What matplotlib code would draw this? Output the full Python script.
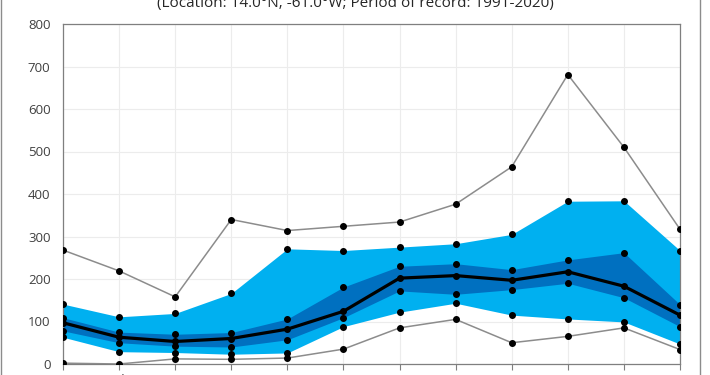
import numpy as np
import matplotlib
matplotlib.use('Agg')
import matplotlib.pyplot as plt
from matplotlib.patches import Rectangle

plt.rcParams['font.family'] = ['Open Sans', 'DejaVu Sans']

###data (mm per month)
months = ['Jan', 'Feb', 'Mar', 'Apr', 'May', 'Jun', 'Jul', 'Aug', 'Sep', 'Oct', 'Nov', 'Dec']
p_max = [268, 219, 158, 340, 314, 324, 334, 376, 464, 681, 510, 317]
p90 = [141, 111, 119, 166, 271, 267, 275, 283, 305, 383, 384, 267]
p75 = [109, 75, 70, 74, 106, 181, 230, 236, 222, 245, 262, 140]
p_mean = [97, 63, 53, 60, 82, 124, 202, 208, 197, 217, 183, 115]
p25 = [78, 50, 42, 40, 57, 109, 172, 164, 175, 190, 156, 88]
p10 = [63, 29, 27, 23, 26, 88, 122, 143, 115, 106, 99, 47]
p_min = [2, 0, 12, 11, 14, 35, 85, 105, 50, 65, 85, 34]

title_text = '(Location: 14.0\u00b0N, -61.0\u00b0W; Period of record: 1991-2020)'

x = np.arange(len(months))

fig = plt.figure(figsize=(7.1, 3.75), dpi=100)
ax = fig.add_axes([63/710, 11/375, 617/710, 340/375])

#bands
ax.fill_between(x, p10, p90, color='#00b0f0', lw=0, zorder=1)
ax.fill_between(x, p25, p75, color='#0070c0', lw=0, zorder=2)

#extremes and mean
ax.plot(x, p_max, color='#8c8c8c', lw=1.1, zorder=3)
ax.plot(x, p_min, color='#8c8c8c', lw=1.1, zorder=3)
ax.plot(x, p_mean, color='black', lw=2.3, zorder=4)

for s in [p_max, p90, p75, p_mean, p25, p10, p_min]:
    ax.plot(x, s, ls='none', marker='o', ms=4, color='black', zorder=5)

ax.set_xlim(0, 11)
ax.set_ylim(0, 800)
ax.set_yticks(range(0, 801, 100))
ax.set_xticks(x)
ax.set_xticklabels(months)
ax.grid(True, color='#ececec', lw=0.8, zorder=0)
ax.set_axisbelow(True)
ax.tick_params(axis='y', length=0, pad=9, labelsize=9.5, labelcolor='#404040')
ax.tick_params(axis='x', length=4, width=0.8, color='#7f7f7f', pad=3, labelsize=9.5, labelcolor='#404040')
for side in ['left', 'right', 'top', 'bottom']:
    ax.spines[side].set_color('#7f7f7f')
    ax.spines[side].set_linewidth(0.9)

fig.text(355/710, 1 - 7/375, title_text, ha='center', va='baseline', fontsize=11, color='#262626')

#outer chart border
fig.add_artist(Rectangle((1.5/710, -0.1), 698.5/710, 1.2, transform=fig.transFigure,
                         fill=False, edgecolor='#8c8c8c', lw=1))

fig.savefig('out.png', dpi=100)
